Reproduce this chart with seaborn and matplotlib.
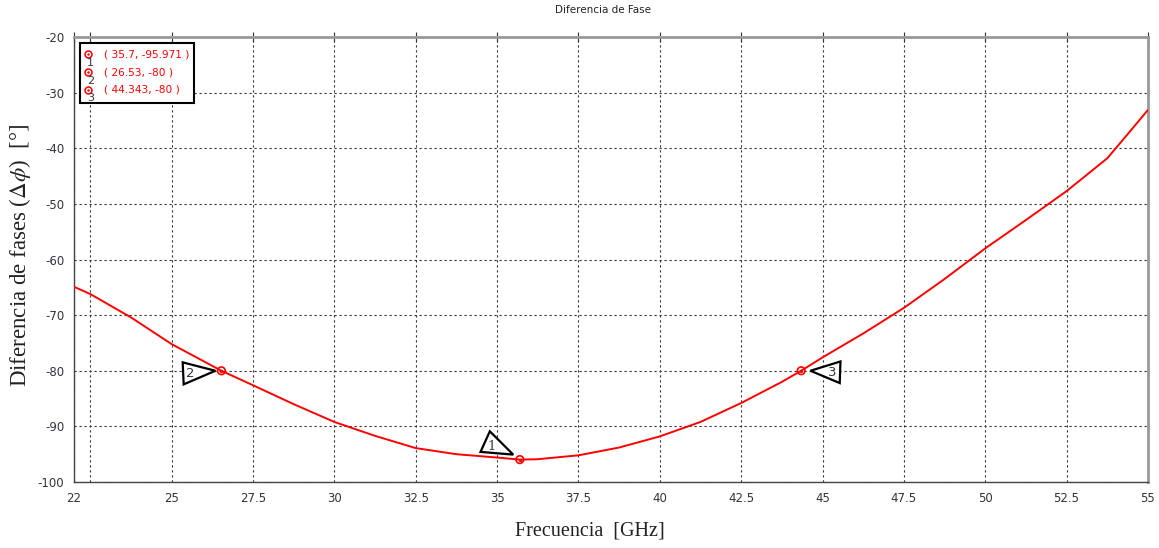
import pandas as pd
import matplotlib
matplotlib.use('Agg')
import matplotlib.pyplot as plt
import matplotlib.transforms as mtransforms
from matplotlib.patches import Polygon, Rectangle
import seaborn as sns

# curve (GHz, degrees)
freq = [22, 22.5, 23.75, 25, 26.53, 27.5, 28.75, 30, 31.25, 32.5, 33.75, 35, 35.7,
        36.25, 37.5, 38.75, 40, 41.25, 42.5, 43.75, 44.343, 45, 46.25, 47.5, 48.75,
        50, 51.25, 52.5, 53.75, 54.4, 55]
dphase = [-64.9, -66.2, -70.4, -75.2, -80.0, -82.6, -86.0, -89.2, -91.7, -93.9, -95.0,
          -95.6, -95.971, -95.9, -95.2, -93.8, -91.8, -89.2, -85.8, -82.0, -80.0, -77.6,
          -73.3, -68.7, -63.5, -58.0, -52.9, -47.7, -41.8, -37.3, -33.1]

marker_ids = ['1', '2', '3']
marker_x = [35.7, 26.53, 44.343]
marker_y = [-95.971, -80, -80]

xticks = [22, 22.5, 25, 27.5, 30, 32.5, 35, 37.5, 40, 42.5, 45, 47.5, 50, 52.5, 55]
xtick_labels = ['22', '', '25', '27.5', '30', '32.5', '35', '37.5', '40', '42.5', '45',
                '47.5', '50', '52.5', '55']
yticks = [-100, -90, -80, -70, -60, -50, -40, -30, -20]

sns.set_style('white')
plt.rcParams['font.family'] = ['DejaVu Sans']
plt.rcParams['mathtext.fontset'] = 'stix'

df = pd.DataFrame({'Frecuencia': freq, 'Fase': dphase})

fig = plt.figure(figsize=(11.59, 5.48), dpi=100)
ax = fig.add_axes([0.0638, 0.1204, 0.9267, 0.8121])

sns.lineplot(data=df, x='Frecuencia', y='Fase', color='red', lw=1.4, ax=ax, zorder=3)

ax.set_xlim(22, 55)
ax.set_ylim(-100, -20)
ax.set_xticks(xticks)
ax.set_xticklabels(xtick_labels)
ax.set_yticks(yticks)
ax.set_yticklabels([str(v) for v in yticks])
ax.tick_params(axis='both', labelsize=8.5, colors='#333340')
ax.tick_params(axis='x', direction='inout', length=7, width=0.8, top=True, pad=4)
ax.tick_params(axis='y', direction='out', length=5, width=0.8, pad=2)
ax.grid(True, color='#333333', linestyle=(0, (2, 2.5)), linewidth=0.8)

for side in ['left', 'bottom']:
    ax.spines[side].set_color('#444444')
    ax.spines[side].set_linewidth(1.0)
for side in ['top', 'right']:
    ax.spines[side].set_color('#999999')
    ax.spines[side].set_linewidth(2.0)

ax.set_xlabel('Frecuencia  [GHz]', family='Liberation Serif', fontsize=14.5, color='#222222')
ax.set_ylabel(r'Diferencia de fases ($\Delta\phi$)  [°]', family='Liberation Serif',
              fontsize=16.5, color='#222222')
ax.xaxis.set_label_coords(0.48, -0.088)
ax.yaxis.set_label_coords(-0.038, 0.51)

fig.text(0.52, 0.982, 'Diferencia de Fase', fontsize=7.5, ha='center', va='center',
         color='#222222')

# marker points
ax.scatter(marker_x, marker_y, s=30, facecolors='none', edgecolors='red', linewidths=1.2, zorder=5)
ax.scatter(marker_x, marker_y, s=2, color='red', zorder=6)

# triangle flags next to each marker (offsets in pixels)
flags = {
    '1': ([(-6.6, 5), (-30, 28.3), (-39.3, 7.7)], (-28.3, 13.3)),
    '2': ([(-6, 0), (-38.7, 8.4), (-37.7, -13.6)], (-31, -2.6)),
    '3': ([(9.3, 0), (39.3, 9.3), (38.6, -12.3)], (31, -1.3)),
}
for mid, mx, my in zip(marker_ids, marker_x, marker_y):
    verts, txt = flags[mid]
    trans = fig.dpi_scale_trans + mtransforms.ScaledTranslation(mx, my, ax.transData)
    poly = Polygon([(vx / 100, vy / 100) for vx, vy in verts], closed=True,
                   facecolor='white', edgecolor='black', lw=1.6, transform=trans, zorder=7)
    ax.add_patch(poly)
    ax.text(txt[0] / 100, txt[1] / 100, mid, transform=trans, fontsize=9.5,
            ha='center', va='center', color='#333344', zorder=8,
            family='DejaVu Serif' if mid == '1' else 'DejaVu Sans')

# marker readout box
ax.add_patch(Rectangle((0.0056, 0.852), 0.106, 0.1345, transform=ax.transAxes,
                       facecolor='white', edgecolor='black', lw=1.5, zorder=9))
row_y = [0.961, 0.9207, 0.8809]
for mid, mx, my, ry in zip(marker_ids, marker_x, marker_y, row_y):
    ax.plot(0.013, ry, 'o', mfc='none', mec='red', ms=5, mew=1.1,
            transform=ax.transAxes, zorder=10, clip_on=False)
    ax.plot(0.013, ry, '.', color='red', ms=1.5, transform=ax.transAxes, zorder=10)
    ax.text(0.0155, ry - 0.019, mid, transform=ax.transAxes, fontsize=8,
            ha='center', va='center', color='#333344', zorder=10)
    lbl = f'( {mx:g}, {my:g} )'
    ax.text(0.028, ry, lbl, transform=ax.transAxes, fontsize=7.6, ha='left',
            va='center', color='red', zorder=10)

fig.savefig('out.png', dpi=100)
